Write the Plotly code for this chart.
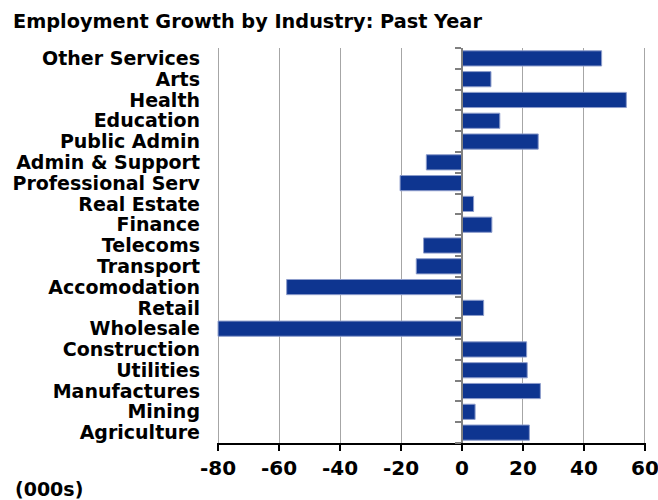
import plotly.graph_objects as go

# Industries, listed top to bottom as drawn
industries = [
    "Other Services", "Arts", "Health", "Education", "Public Admin",
    "Admin & Support", "Professional Serv", "Real Estate", "Finance",
    "Telecoms", "Transport", "Accomodation", "Retail", "Wholesale",
    "Construction", "Utilities", "Manufactures", "Mining", "Agriculture",
]

# Change in employment over the past year (thousands)
growth = [
    45.8, 9.5, 53.9, 12.4, 25.0,
    -11.7, -20.3, 3.8, 9.8,
    -12.6, -15.0, -57.5, 7.1, -80.0,
    21.2, 21.4, 25.7, 4.3, 22.1,
]

x_ticks = [-80, -60, -40, -20, 0, 20, 40, 60]
# small padding so the end gridlines are kept
x_range = [-80.35, 60.35]

FONT = "DejaVu Sans, Verdana, sans-serif"
BAR = "#0E3590"

fig = go.Figure()
fig.add_trace(go.Bar(
    x=growth,
    y=industries,
    orientation="h",
    marker=dict(color=BAR, line=dict(color="#8C9CCB", width=1)),
    hoverinfo="x+y",
))

# Invisible companion on the secondary axis so the zero line with its
# category-boundary ticks gets drawn
positions = list(range(len(industries)))
fig.add_trace(go.Scatter(
    x=growth,
    y=positions,
    yaxis="y2",
    mode="markers",
    marker=dict(opacity=0),
    hoverinfo="skip",
))

# Category boundaries for the small tick marks along the zero line
boundaries = [i - 0.5 for i in range(len(industries) + 1)]
zero_pos = (0 - x_range[0]) / (x_range[1] - x_range[0])

fig.update_layout(
    width=658,
    height=500,
    margin=dict(l=217, r=12, t=48, b=57, autoexpand=False),
    paper_bgcolor="white",
    plot_bgcolor="white",
    showlegend=False,
    bargap=0.27,
    font=dict(family=FONT, color="black", size=19, weight="bold"),
    title=dict(
        text="Employment Growth by Industry: Past Year",
        font=dict(family=FONT, size=19.3, color="black", weight="bold"),
        xref="container", x=13 / 658, xanchor="left",
        yref="container", y=1 - 21 / 500, yanchor="middle",
    ),
    xaxis=dict(
        range=x_range,
        tickmode="array",
        tickvals=x_ticks,
        ticktext=[str(v) for v in x_ticks],
        ticklabeloverflow="allow",
        automargin=False,
        showgrid=True,
        gridcolor="#A6A6A6",
        gridwidth=1,
        zeroline=False,
        showline=True,
        linecolor="black",
        linewidth=2,
        ticks="outside",
        ticklen=6,
        tickwidth=2,
        tickcolor="black",
        tickfont=dict(family=FONT, size=20, color="black", weight="bold"),
        fixedrange=True,
    ),
    yaxis=dict(
        type="category",
        categoryorder="array",
        categoryarray=industries,
        tickmode="array",
        tickvals=industries,
        ticktext=industries,
        autorange="reversed",
        automargin=False,
        showgrid=False,
        zeroline=False,
        showline=False,
        ticks="",
        ticklabelstandoff=16,
        tickfont=dict(family=FONT, size=19, color="black", weight="bold"),
        fixedrange=True,
    ),
    yaxis2=dict(
        overlaying="y",
        anchor="free",
        position=zero_pos,
        side="left",
        automargin=False,
        range=[len(industries) - 0.5, -0.5],
        tickmode="array",
        tickvals=boundaries,
        showticklabels=False,
        ticks="outside",
        ticklen=6,
        tickwidth=2,
        tickcolor="#808080",
        showline=True,
        linecolor="#808080",
        linewidth=2,
        showgrid=False,
        zeroline=False,
        fixedrange=True,
    ),
    annotations=[
        dict(
            text="(000s)",
            xref="paper", yref="paper",
            x=(13 - 217) / 429, y=(443.5 - 489) / 395,
            xanchor="left", yanchor="middle",
            showarrow=False,
            font=dict(family=FONT, size=19, color="black", weight="bold"),
        )
    ],
)

fig.write_html("out.html")
